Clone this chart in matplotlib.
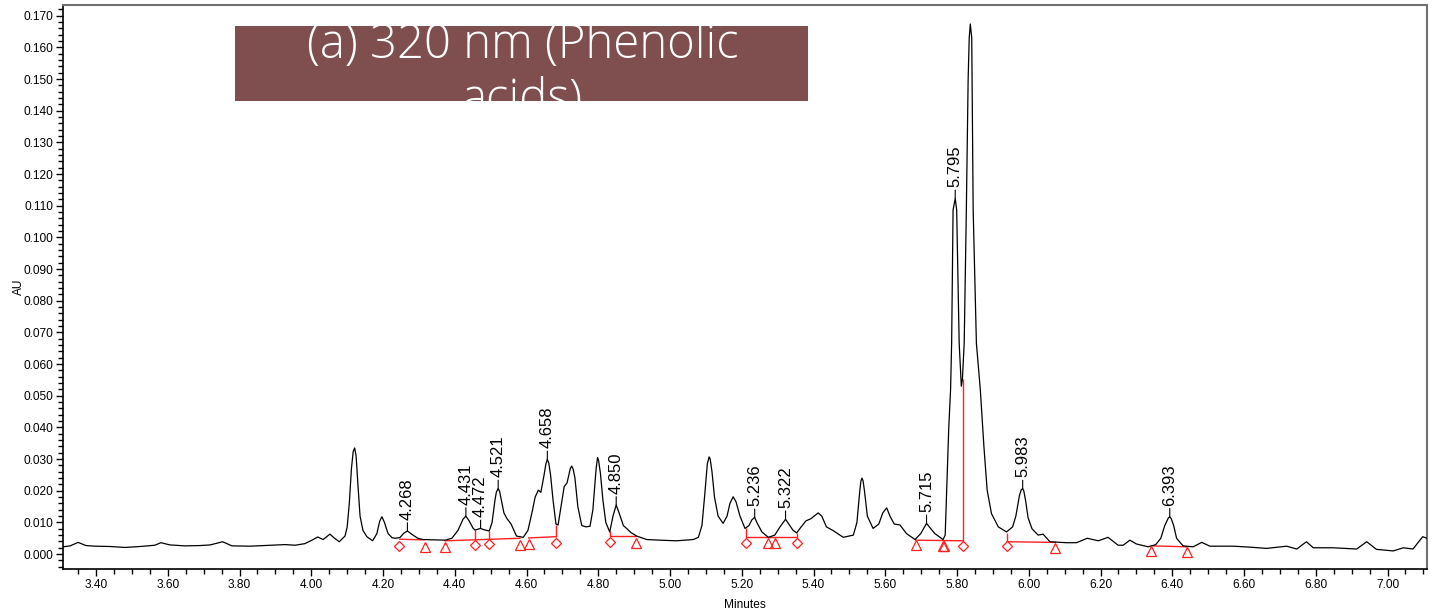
import matplotlib
matplotlib.use("Agg")
import matplotlib.pyplot as plt
from matplotlib.patches import Rectangle
from matplotlib.ticker import MultipleLocator, FormatStrFormatter

plt.rcParams['font.family'] = ['Liberation Sans', 'DejaVu Sans']

# chromatogram trace (minutes, AU)
minutes = [3.308, 3.328, 3.350, 3.372, 3.397, 3.439, 3.481, 3.523, 3.564, 3.581,
           3.606, 3.648, 3.690, 3.718, 3.753, 3.779, 3.829, 3.885, 3.927, 3.955,
           3.982, 4.002, 4.018, 4.033, 4.052, 4.063, 4.078, 4.094, 4.100, 4.106,
           4.112, 4.117, 4.121, 4.125, 4.130, 4.136, 4.144, 4.155, 4.171, 4.183,
           4.191, 4.197, 4.204, 4.214, 4.225, 4.233, 4.247, 4.258, 4.268, 4.281,
           4.297, 4.312, 4.345, 4.373, 4.392, 4.409, 4.423, 4.431, 4.440, 4.451,
           4.456, 4.465, 4.472, 4.481, 4.496, 4.504, 4.512, 4.516, 4.521, 4.525,
           4.529, 4.537, 4.545, 4.557, 4.572, 4.591, 4.604, 4.615, 4.624, 4.633,
           4.640, 4.649, 4.654, 4.658, 4.662, 4.667, 4.674, 4.682, 4.688, 4.696,
           4.705, 4.713, 4.722, 4.726, 4.730, 4.735, 4.743, 4.754, 4.766, 4.777,
           4.785, 4.794, 4.798, 4.801, 4.806, 4.813, 4.821, 4.832, 4.841, 4.850,
           4.858, 4.870, 4.879, 4.891, 4.907, 4.935, 4.972, 5.018, 5.065, 5.079,
           5.089, 5.097, 5.104, 5.109, 5.112, 5.117, 5.124, 5.134, 5.148, 5.159,
           5.167, 5.176, 5.184, 5.195, 5.209, 5.220, 5.228, 5.236, 5.242, 5.256,
           5.274, 5.292, 5.306, 5.322, 5.331, 5.343, 5.353, 5.365, 5.379, 5.393,
           5.413, 5.423, 5.436, 5.455, 5.483, 5.511, 5.521, 5.529, 5.532, 5.535,
           5.538, 5.542, 5.550, 5.566, 5.582, 5.593, 5.604, 5.613, 5.625, 5.641,
           5.659, 5.683, 5.699, 5.715, 5.727, 5.738, 5.761, 5.767, 5.772, 5.777,
           5.782, 5.785, 5.789, 5.795, 5.799, 5.806, 5.812, 5.815, 5.820, 5.826,
           5.831, 5.834, 5.837, 5.841, 5.845, 5.854, 5.865, 5.875, 5.884, 5.896,
           5.915, 5.938, 5.955, 5.964, 5.974, 5.979, 5.983, 5.986, 5.991, 5.998,
           6.009, 6.026, 6.040, 6.059, 6.105, 6.133, 6.163, 6.194, 6.221, 6.249,
           6.263, 6.282, 6.300, 6.333, 6.354, 6.368, 6.379, 6.389, 6.393, 6.397,
           6.404, 6.412, 6.430, 6.458, 6.482, 6.505, 6.570, 6.616, 6.663, 6.719,
           6.747, 6.774, 6.793, 6.848, 6.914, 6.942, 6.969, 7.016, 7.044, 7.071,
           7.098, 7.110]
absorbance = [0.0023, 0.0026, 0.0037, 0.0027, 0.0025, 0.0024, 0.0021, 0.0024, 0.0028, 0.0036,
              0.0029, 0.0026, 0.0027, 0.0029, 0.0039, 0.0026, 0.0025, 0.0028, 0.0030, 0.0028,
              0.0033, 0.0044, 0.0054, 0.0046, 0.0063, 0.0052, 0.0039, 0.0057, 0.0085, 0.0160,
              0.0270, 0.0325, 0.0335, 0.0310, 0.0220, 0.0120, 0.0075, 0.0055, 0.0042, 0.0065,
              0.0105, 0.0118, 0.0100, 0.0065, 0.0052, 0.0050, 0.0052, 0.0066, 0.0073, 0.0062,
              0.0050, 0.0046, 0.0045, 0.0044, 0.0050, 0.0075, 0.0110, 0.0120, 0.0105, 0.0082,
              0.0076, 0.0079, 0.0081, 0.0077, 0.0073, 0.0100, 0.0170, 0.0196, 0.0207, 0.0198,
              0.0175, 0.0130, 0.0113, 0.0095, 0.0057, 0.0053, 0.0075, 0.0130, 0.0180, 0.0202,
              0.0195, 0.0250, 0.0285, 0.0299, 0.0288, 0.0250, 0.0170, 0.0095, 0.0092, 0.0150,
              0.0213, 0.0225, 0.0270, 0.0278, 0.0268, 0.0240, 0.0150, 0.0090, 0.0086, 0.0088,
              0.0140, 0.0270, 0.0305, 0.0295, 0.0255, 0.0170, 0.0100, 0.0070, 0.0120, 0.0155,
              0.0130, 0.0090, 0.0081, 0.0068, 0.0057, 0.0046, 0.0044, 0.0042, 0.0046, 0.0053,
              0.0090, 0.0190, 0.0285, 0.0307, 0.0300, 0.0260, 0.0180, 0.0120, 0.0097, 0.0120,
              0.0160, 0.0181, 0.0165, 0.0120, 0.0081, 0.0090, 0.0108, 0.0116, 0.0100, 0.0070,
              0.0053, 0.0060, 0.0085, 0.0110, 0.0095, 0.0075, 0.0067, 0.0085, 0.0105, 0.0112,
              0.0130, 0.0120, 0.0086, 0.0074, 0.0053, 0.0060, 0.0100, 0.0200, 0.0230, 0.0240,
              0.0232, 0.0200, 0.0120, 0.0081, 0.0095, 0.0130, 0.0146, 0.0120, 0.0095, 0.0092,
              0.0065, 0.0046, 0.0065, 0.0097, 0.0080, 0.0065, 0.0046, 0.0060, 0.0230, 0.0400,
              0.0518, 0.0666, 0.1087, 0.1123, 0.1087, 0.0666, 0.0530, 0.0552, 0.0666, 0.1087,
              0.1500, 0.1630, 0.1674, 0.1630, 0.1087, 0.0666, 0.0518, 0.0339, 0.0202, 0.0128,
              0.0086, 0.0070, 0.0086, 0.0120, 0.0185, 0.0203, 0.0207, 0.0200, 0.0170, 0.0115,
              0.0080, 0.0060, 0.0063, 0.0039, 0.0036, 0.0036, 0.0050, 0.0042, 0.0053, 0.0028,
              0.0028, 0.0044, 0.0032, 0.0023, 0.0030, 0.0050, 0.0090, 0.0114, 0.0118, 0.0112,
              0.0090, 0.0050, 0.0026, 0.0023, 0.0037, 0.0025, 0.0025, 0.0022, 0.0018, 0.0025,
              0.0016, 0.0039, 0.0020, 0.0020, 0.0016, 0.0039, 0.0015, 0.0010, 0.0020, 0.0016,
              0.0055, 0.0050]

# labelled peaks: retention time and apex height
peak_rt = [4.268, 4.431, 4.472, 4.521, 4.658, 4.850, 5.236, 5.322, 5.715, 5.795, 5.983, 6.393]
peak_au = [0.0073, 0.0120, 0.0081, 0.0207, 0.0299, 0.0155, 0.0116, 0.0110, 0.0097, 0.1123, 0.0207, 0.0118]

# integration baselines (start, end) in minutes and AU
base_t0 = [4.247, 4.373, 4.606, 4.833, 5.212, 5.685, 5.940, 6.342]
base_t1 = [4.314, 4.582, 4.681, 4.904, 5.355, 5.817, 6.074, 6.441]
base_y0 = [0.0047, 0.0042, 0.0051, 0.0057, 0.0053, 0.0044, 0.0039, 0.0026]
base_y1 = [0.0045, 0.0050, 0.0055, 0.0057, 0.0053, 0.0042, 0.0037, 0.0023]

# drop lines (time, bottom, top)
drop_t = [4.457, 4.496, 4.681, 4.833, 5.212, 5.355, 5.817, 5.940]
drop_lo = [0.0045, 0.0046, 0.0055, 0.0057, 0.0053, 0.0053, 0.0042, 0.0039]
drop_hi = [0.0076, 0.0073, 0.0092, 0.0073, 0.0081, 0.0067, 0.0552, 0.0067]

# peak start/end markers
diamond_t = [4.244, 4.457, 4.496, 4.681, 4.833, 5.212, 5.355, 5.817, 5.940]
diamond_y = [0.0026, 0.0028, 0.0032, 0.0036, 0.0039, 0.0034, 0.0036, 0.0026, 0.0025]
triangle_t = [4.316, 4.373, 4.582, 4.606, 4.904, 5.273, 5.293, 5.685, 5.760, 5.763, 6.074, 6.342, 6.441]
triangle_y = [0.0023, 0.0023, 0.0028, 0.0032, 0.0036, 0.0036, 0.0036, 0.0028, 0.0025, 0.0025, 0.0020, 0.0010, 0.0007]

fig = plt.figure(figsize=(14.32, 6.13), dpi=100)
ax = fig.add_axes([0.044, 0.0718, 0.9525, 0.9201])

ax.plot(minutes, absorbance, color='black', lw=0.9, zorder=3)

red = '#ff2020'
for t0, t1, y0, y1 in zip(base_t0, base_t1, base_y0, base_y1):
    ax.plot([t0, t1], [y0, y1], color=red, lw=1.0, zorder=2)
ax.vlines(drop_t, drop_lo, drop_hi, color=red, lw=1.0, zorder=2)
ax.plot(diamond_t, diamond_y, ls='none', marker='D', ms=5.2, mfc='white', mec=red, mew=0.9, zorder=4)
ax.plot(triangle_t, triangle_y, ls='none', marker='^', ms=7, mfc='none', mec=red, mew=0.9, zorder=4)

for rt, h in zip(peak_rt, peak_au):
    ax.annotate(f'{rt:.3f}', xy=(rt, h), xytext=(0, 8), textcoords='offset points',
                rotation=90, ha='center', va='bottom', fontsize=12,
                arrowprops=dict(arrowstyle='-', lw=0.8, color='black', shrinkA=0, shrinkB=0))

ax.set_xlim(3.308, 7.110)
ax.set_ylim(-0.0047, 0.1734)
ax.xaxis.set_major_locator(MultipleLocator(0.2))
ax.xaxis.set_minor_locator(MultipleLocator(0.05))
ax.yaxis.set_major_locator(MultipleLocator(0.01))
ax.yaxis.set_minor_locator(MultipleLocator(0.002))
ax.xaxis.set_major_formatter(FormatStrFormatter('%.2f'))
ax.yaxis.set_major_formatter(FormatStrFormatter('%.3f'))
ax.tick_params(which='major', length=5, width=1, labelsize=8.6, direction='out', pad=2)
ax.tick_params(which='minor', length=3.5, width=1, direction='out')
ax.set_xlabel('Minutes', fontsize=8.6, labelpad=6)
ax.set_ylabel('AU', fontsize=8.6, labelpad=-1)

for side in ['left', 'bottom']:
    ax.spines[side].set_linewidth(1.2)
for side in ['top', 'right']:
    ax.spines[side].set_color('#707070')
    ax.spines[side].set_linewidth(1.5)

# title box, text clipped by the box like in the original
box = Rectangle((0.1641, 0.8352), 0.4001, 0.1223, transform=fig.transFigure,
                facecolor='#7f4e4e', edgecolor='none', zorder=5)
fig.add_artist(box)
t1 = fig.text(0.3649, 1 - 58 / 613, '(a) 320 nm (Phenolic', color='white', fontsize=34,
              family=['Open Sans', 'DejaVu Sans'], weight='light', ha='center', va='baseline', zorder=6)
t2 = fig.text(0.3649, 1 - 113 / 613, 'acids)', color='white', fontsize=34,
              family=['Open Sans', 'DejaVu Sans'], weight='light', ha='center', va='baseline', zorder=6)
for t in (t1, t2):
    t.set_clip_path(box)

fig.savefig('out.png', dpi=100)
